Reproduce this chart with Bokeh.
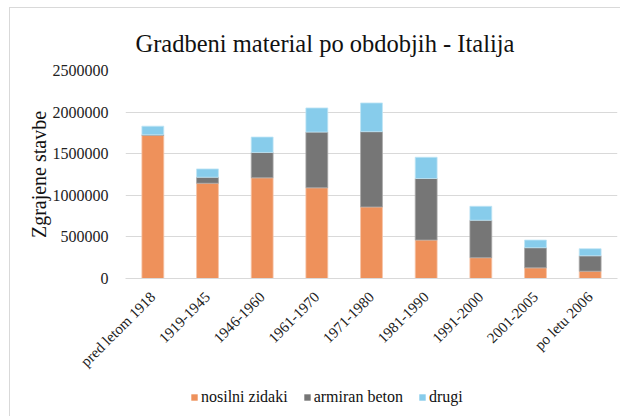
from math import pi
from bokeh.plotting import figure
from bokeh.layouts import column
from bokeh.models import ColumnDataSource, FixedTicker, NumeralTickFormatter, Label
from bokeh.embed import file_html
from bokeh.resources import INLINE

periods = ["pred letom 1918", "1919-1945", "1946-1960", "1961-1970", "1971-1980",
           "1981-1990", "1991-2000", "2001-2005", "po letu 2006"]
nosilni_zidaki = [1720000, 1145000, 1210000, 1090000, 860000, 462000, 250000, 128000, 88000]
armiran_beton = [8000, 72000, 305000, 670000, 905000, 740000, 450000, 242000, 185000]
drugi = [103000, 100000, 185000, 290000, 345000, 255000, 168000, 92000, 85000]
series_names = ["nosilni zidaki", "armiran beton", "drugi"]
series_keys = ["nosilni_zidaki", "armiran_beton", "drugi"]
colors = ["#EE915B", "#767676", "#87CCEB"]
outline_colors = ["#F6C3A6", "#A8A8A8", "#BFE4F5"]
y_ticks = [0, 500000, 1000000, 1500000, 2000000, 2500000]
title_text = "Gradbeni material po obdobjih - Italija"

source = ColumnDataSource(dict(periods=periods, nosilni_zidaki=nosilni_zidaki,
                               armiran_beton=armiran_beton, drugi=drugi))

SERIF = "Liberation Serif"

# title strip
t = figure(width=610, height=50, output_backend="svg", toolbar_location=None,
           x_range=(0, 1), y_range=(0, 1), min_border=0)
t.axis.visible = False
t.grid.visible = False
t.outline_line_color = None
t.add_layout(Label(x=10, y=15, x_units="screen", y_units="screen", text=title_text,
                   text_font=SERIF, text_font_size="24.5px", text_color="#111111",
                   text_align="left", text_baseline="alphabetic"))

# main chart
p = figure(x_range=periods, y_range=(0, 2500000), width=610, height=322,
           output_backend="svg", toolbar_location=None,
           min_border_left=115, min_border_right=3, min_border_top=12, min_border_bottom=102)
p.outline_line_color = None
p.x_range.range_padding = 0
p.title.visible = False

p.vbar_stack(series_keys, x="periods", width=0.4, fill_color=colors, line_color=outline_colors,
             source=source, line_width=0.8)

# y axis
p.yaxis.ticker = FixedTicker(ticks=y_ticks)
p.yaxis.formatter = NumeralTickFormatter(format="0")
p.yaxis.axis_line_color = None
p.yaxis.major_tick_line_color = None
p.yaxis.minor_tick_line_color = None
p.yaxis.major_label_text_font = SERIF
p.yaxis.major_label_text_font_size = "16px"
p.yaxis.major_label_text_color = "#222222"
p.yaxis.major_label_standoff = 11
p.yaxis.axis_label = "Zgrajene stavbe"
p.yaxis.axis_label_text_font = SERIF
p.yaxis.axis_label_text_font_size = "20px"
p.yaxis.axis_label_text_font_style = "normal"
p.yaxis.axis_label_text_color = "#111111"
p.yaxis.axis_label_standoff = 0

# x axis
p.xaxis.axis_line_color = "#D9D9D9"
p.xaxis.axis_line_width = 1
p.xaxis.major_tick_line_color = None
p.xaxis.minor_tick_line_color = None
p.xaxis.major_label_orientation = pi / 4
p.xaxis.major_label_text_font = SERIF
p.xaxis.major_label_text_font_size = "15px"
p.xaxis.major_label_text_color = "#222222"
p.xaxis.major_label_standoff = 10

# grid
p.xgrid.grid_line_color = None
p.ygrid.grid_line_color = "#D9D9D9"
p.ygrid.grid_line_width = 1

# legend strip (separate figure so the legend is not clipped by the frame)
q = figure(width=610, height=36, output_backend="svg", toolbar_location=None,
           x_range=(0, 1), y_range=(0, 1), min_border=0)
q.axis.visible = False
q.grid.visible = False
q.outline_line_color = None
for name, c in zip(series_names, colors):
    # zero-height proxy bar outside the view, only used for the legend swatch
    q.vbar(x=[-1], top=[0], width=0.1, fill_color=c, line_color=None, legend_label=name)
lg = q.legend[0]
lg.orientation = "horizontal"
lg.location = (65, 10)
lg.border_line_color = None
lg.background_fill_alpha = 0
lg.padding = 0
lg.margin = 0
lg.spacing = 15
lg.glyph_width = 8
lg.glyph_height = 8
lg.label_height = 17
lg.label_standoff = 3
lg.label_text_font = SERIF
lg.label_text_font_size = "16px"
lg.label_text_color = "#111111"

layout = column(t, p, q, spacing=0)
layout.margin = (7, 0, 0, 9)
layout.styles = {"border-left": "1px solid #D9D9D9", "border-top": "1px solid #D9D9D9"}

open("out.html", "w").write(file_html(layout, INLINE))
